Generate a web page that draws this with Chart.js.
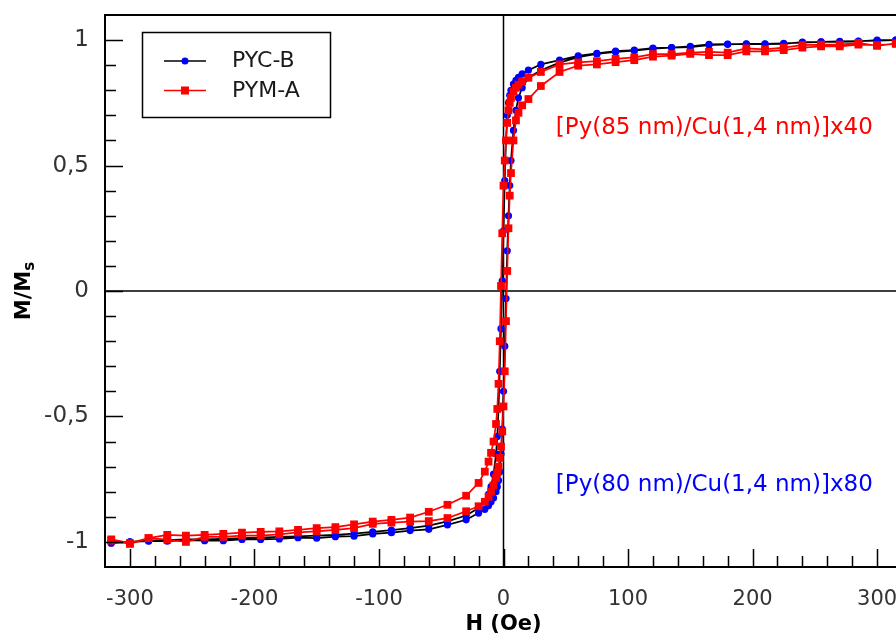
<!DOCTYPE html>
<html>
<head>
<meta charset="utf-8">
<script src="https://cdn.jsdelivr.net/npm/chart.js@4/dist/chart.umd.min.js"></script>
<style>
  html, body { margin: 0; padding: 0; background: #fff; overflow: hidden; }
  #wrap { width: 896px; height: 637px; overflow: hidden; }
</style>
</head>
<body>
<div id="wrap"><canvas id="loop" width="910" height="637"></canvas></div>
<script>
// Field steps (Oe) for the descending and ascending branches
const fieldDown = [315, 300, 285, 270, 255, 240, 225, 210, 195, 180, 165, 150, 135, 120, 105, 90, 75, 60, 45, 30,
  20, 15, 12, 10, 8, 6, 5, 4, 3, 2, 1, 0, -1, -2, -3, -4, -5, -6, -8, -10, -12, -15, -20,
  -30, -45, -60, -75, -90, -105, -120, -135, -150, -165, -180, -195, -210, -225, -240, -255, -270, -285, -300, -315];
const fieldUp = [-315, -300, -285, -270, -255, -240, -225, -210, -195, -180, -165, -150, -135, -120, -105, -90, -75, -60, -45, -30,
  -20, -15, -12, -10, -8, -6, -5, -4, -3, -2, -1, 0, 1, 2, 3, 4, 5, 6, 8, 10, 12, 15, 20,
  30, 45, 60, 75, 90, 105, 120, 135, 150, 165, 180, 195, 210, 225, 240, 255, 270, 285, 300, 315];

// PYC-B  [Py(80 nm)/Cu(1,4 nm)]x80
const pycbDown = [1.0, 1.0, 0.995, 0.993, 0.993, 0.992, 0.985, 0.984, 0.984, 0.984, 0.983, 0.975, 0.97, 0.968, 0.96, 0.956, 0.947, 0.937, 0.92, 0.903,
  0.88, 0.865, 0.852, 0.84, 0.825, 0.8, 0.78, 0.75, 0.7, 0.6, 0.44, 0.24, 0.04, -0.15, -0.32, -0.47, -0.58, -0.65, -0.73, -0.78, -0.81, -0.84, -0.865,
  -0.895, -0.918, -0.935, -0.945, -0.953, -0.96, -0.967, -0.972, -0.975, -0.978, -0.98, -0.983, -0.985, -0.988, -0.99, -0.99, -0.993, -0.995, -1.0, -1.003];
const pycbUp = [-1.005, -1.0, -0.997, -0.997, -0.993, -0.995, -0.995, -0.99, -0.99, -0.988, -0.983, -0.985, -0.979, -0.977, -0.968, -0.963, -0.955, -0.95, -0.932, -0.912,
  -0.885, -0.87, -0.855, -0.84, -0.825, -0.8, -0.78, -0.755, -0.72, -0.65, -0.55, -0.4, -0.22, -0.03, 0.16, 0.3, 0.42, 0.52, 0.64, 0.72, 0.77, 0.81, 0.85,
  0.88, 0.91, 0.932, 0.945, 0.953, 0.958, 0.966, 0.97, 0.972, 0.98, 0.983, 0.985, 0.985, 0.987, 0.99, 0.993, 0.995, 0.996, 0.998, 1.0];

// PYM-A  [Py(85 nm)/Cu(1,4 nm)]x40
const pymaDown = [0.987, 0.977, 0.989, 0.982, 0.982, 0.98, 0.97, 0.963, 0.967, 0.95, 0.953, 0.95, 0.944, 0.944, 0.931, 0.925, 0.916, 0.911, 0.903, 0.873,
  0.85, 0.835, 0.822, 0.81, 0.795, 0.77, 0.75, 0.72, 0.67, 0.6, 0.52, 0.42, 0.23, 0.02, -0.2, -0.37, -0.47, -0.53, -0.6, -0.645, -0.68, -0.72, -0.765,
  -0.816, -0.852, -0.88, -0.903, -0.912, -0.919, -0.93, -0.941, -0.945, -0.952, -0.958, -0.96, -0.963, -0.968, -0.972, -0.975, -0.972, -0.985, -1.005, -0.99];
const pymaUp = [-0.995, -1.008, -0.985, -0.991, -1.0, -0.98, -0.98, -0.975, -0.975, -0.97, -0.962, -0.958, -0.952, -0.945, -0.928, -0.923, -0.919, -0.917, -0.905, -0.878,
  -0.858, -0.84, -0.82, -0.8, -0.775, -0.745, -0.725, -0.7, -0.665, -0.62, -0.56, -0.46, -0.32, -0.12, 0.08, 0.25, 0.38, 0.47, 0.6, 0.68, 0.71, 0.74, 0.765,
  0.817, 0.873, 0.898, 0.903, 0.912, 0.92, 0.934, 0.938, 0.945, 0.94, 0.94, 0.955, 0.955, 0.96, 0.97, 0.975, 0.975, 0.982, 0.98, 0.985];

const xTicks = [-300, -200, -100, 0, 100, 200, 300];
const xTickLabels = ['-300', '-200', '-100', '0', '100', '200', '300'];
const yTicks = [-1, -0.5, 0, 0.5, 1];
const yTickLabels = ['-1', '-0,5', '0', '0,5', '1'];

const FONT = "'DejaVu Sans', sans-serif";

function loopPoints(down, mDown, up, mUp) {
  const pts = down.map((h, i) => ({ x: h, y: mDown[i] }));
  return pts.concat(up.map((h, i) => ({ x: h, y: mUp[i] })));
}

// frame, inward ticks, zero lines, titles, legend and labels
const decor = {
  id: 'decor',
  beforeDatasetsDraw(chart) {
    const { ctx, chartArea: a, scales: { x, y } } = chart;
    ctx.save();
    ctx.strokeStyle = '#000';
    ctx.lineWidth = 1.5;
    ctx.beginPath();
    ctx.moveTo(a.left, y.getPixelForValue(0));
    ctx.lineTo(a.right, y.getPixelForValue(0));
    ctx.moveTo(x.getPixelForValue(0), a.top);
    ctx.lineTo(x.getPixelForValue(0), a.bottom);
    ctx.stroke();
    ctx.restore();
  },
  afterDraw(chart) {
    const { ctx, chartArea: a, scales: { x, y } } = chart;
    ctx.save();
    ctx.strokeStyle = '#000';
    ctx.lineWidth = 2;
    ctx.beginPath();
    ctx.moveTo(a.right, a.top);
    ctx.lineTo(a.left, a.top);
    ctx.lineTo(a.left, a.bottom);
    ctx.lineTo(a.right, a.bottom);
    ctx.stroke();

    // inward ticks
    ctx.lineWidth = 1.5;
    ctx.beginPath();
    for (let v = -300; v <= 300; v += 20) {
      const px = Math.round(x.getPixelForValue(v)) + 0.5;
      const len = v % 100 === 0 ? 18 : 11;
      ctx.moveTo(px, a.bottom);
      ctx.lineTo(px, a.bottom - len);
    }
    for (let k = -10; k <= 10; k++) {
      const py = Math.round(y.getPixelForValue(k / 10)) + 0.5;
      const len = k % 5 === 0 ? 18 : 11;
      ctx.moveTo(a.left, py);
      ctx.lineTo(a.left + len, py);
    }
    ctx.stroke();

    // axis titles
    ctx.fillStyle = '#000';
    ctx.textBaseline = 'middle';
    ctx.textAlign = 'center';
    ctx.font = 'bold 21px ' + FONT;
    ctx.fillText('H (Oe)', x.getPixelForValue(0), 625);

    ctx.save();
    ctx.translate(22, y.getPixelForValue(0));
    ctx.rotate(-Math.PI / 2);
    ctx.font = 'bold 21px ' + FONT;
    const wM = ctx.measureText('M/M').width;
    ctx.font = 'bold 15px ' + FONT;
    const wS = ctx.measureText('s').width;
    ctx.textAlign = 'left';
    ctx.textBaseline = 'alphabetic';
    ctx.font = 'bold 21px ' + FONT;
    ctx.fillText('M/M', -(wM + wS) / 2, 8);
    ctx.font = 'bold 15px ' + FONT;
    ctx.fillText('s', -(wM + wS) / 2 + wM, 12);
    ctx.restore();

    // sample labels
    ctx.font = '23px ' + FONT;
    ctx.textAlign = 'left';
    ctx.fillStyle = '#ff0000';
    ctx.fillText('[Py(85 nm)/Cu(1,4 nm)]x40', x.getPixelForValue(42), y.getPixelForValue(0.65));
    ctx.fillStyle = '#0000ff';
    ctx.fillText('[Py(80 nm)/Cu(1,4 nm)]x80', x.getPixelForValue(42), y.getPixelForValue(-0.773));

    // legend box
    ctx.fillStyle = '#fff';
    ctx.fillRect(142, 32, 189, 85);
    ctx.strokeStyle = '#000';
    ctx.lineWidth = 1.5;
    ctx.strokeRect(142.5, 32.5, 188, 85);
    ctx.beginPath();
    ctx.moveTo(164, 61); ctx.lineTo(206, 61);
    ctx.stroke();
    ctx.fillStyle = '#0000ff';
    ctx.beginPath();
    ctx.arc(185, 61, 3.5, 0, Math.PI * 2);
    ctx.fill();
    ctx.strokeStyle = '#ff0000';
    ctx.beginPath();
    ctx.moveTo(164, 90.5); ctx.lineTo(206, 90.5);
    ctx.stroke();
    ctx.fillStyle = '#ff0000';
    ctx.fillRect(181, 86.5, 8, 8);
    ctx.fillStyle = '#1a1a1a';
    ctx.font = '22px ' + FONT;
    ctx.fillText('PYC-B', 232, 61);
    ctx.fillText('PYM-A', 232, 91);
    ctx.restore();
  }
};

new Chart(document.getElementById('loop'), {
  type: 'scatter',
  data: {
    datasets: [{
      label: 'PYC-B',
      data: loopPoints(fieldDown, pycbDown, fieldUp, pycbUp),
      showLine: true,
      borderColor: '#000',
      borderWidth: 1.7,
      backgroundColor: '#0000ff',
      pointBackgroundColor: '#0000ff',
      pointBorderWidth: 0,
      pointRadius: 3.6,
      order: 1
    }, {
      label: 'PYM-A',
      data: loopPoints(fieldDown, pymaDown, fieldUp, pymaUp),
      showLine: true,
      borderColor: '#ff0000',
      borderWidth: 1.7,
      backgroundColor: '#ff0000',
      pointBackgroundColor: '#ff0000',
      pointBorderWidth: 0,
      pointStyle: 'rect',
      pointRadius: 5.5,
      order: 0
    }]
  },
  options: {
    responsive: false,
    animation: false,
    devicePixelRatio: 1,
    layout: { padding: { top: 15, right: 8, left: 0, bottom: 0 } },
    plugins: { legend: { display: false }, tooltip: { enabled: false } },
    scales: {
      x: {
        type: 'linear',
        min: -320,
        max: 320,
        afterBuildTicks: s => { s.ticks = xTicks.map(v => ({ value: v })); },
        afterFit: s => { s.height = 70; s.paddingLeft = 0; s.paddingRight = 0; },
        ticks: {
          callback: (v, i) => xTickLabels[i],
          font: { family: FONT, size: 21 },
          color: '#333',
          padding: 20,
          maxRotation: 0
        },
        grid: { display: false, drawTicks: false },
        border: { display: false }
      },
      y: {
        min: -1.1,
        max: 1.1,
        afterBuildTicks: s => { s.ticks = yTicks.map(v => ({ value: v })); },
        afterFit: s => { s.width = 105; s.paddingTop = 0; s.paddingBottom = 0; },
        ticks: {
          callback: (v, i) => yTickLabels[i],
          font: { family: FONT, size: 23 },
          color: '#333',
          padding: 16
        },
        grid: { display: false, drawTicks: false },
        border: { display: false }
      }
    }
  },
  plugins: [decor]
});
</script>
</body>
</html>
